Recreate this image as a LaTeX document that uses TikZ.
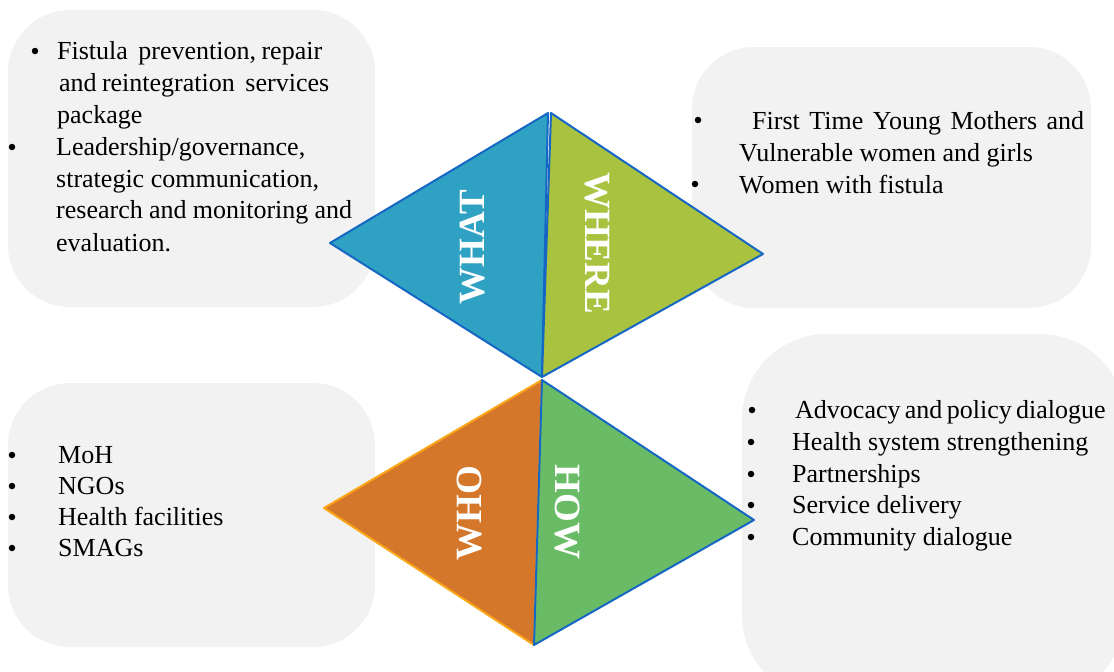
\documentclass[tikz,border=0pt]{standalone}
\usepackage{fontspec}
\setmainfont{Liberation Serif}
\definecolor{boxgray}{HTML}{F2F2F2}
\definecolor{whatfill}{HTML}{2FA2C3}
\definecolor{wherefill}{HTML}{A9C23F}
\definecolor{whofill}{HTML}{D5772A}
\definecolor{howfill}{HTML}{69BC65}
\definecolor{edgeblue}{HTML}{1667C4}
\definecolor{edgeorange}{HTML}{FBA616}
\begin{document}
\begin{tikzpicture}[x=1pt,y=-1pt,
  panel/.style={fill=boxgray, draw=none, rounded corners=62pt},
  txt/.style={anchor=base west, inner sep=0pt, font=\fontsize{26}{30}\selectfont, text=black},
  dot/.style={circle, fill=black, inner sep=0pt, minimum size=6.5pt},
  lbl/.style={text=white, font=\fontsize{37}{40}\selectfont\bfseries, inner sep=0pt},
  tri/.style={line width=2pt, line join=round}]
\useasboundingbox (0,0) rectangle (1114,672);

% panels
\fill[panel] (8,10) rectangle (375,307);
\fill[panel] (692,47) rectangle (1091,308);
\fill[panel] (8,383) rectangle (375,647);
\fill[panel, rounded corners=85pt] (742,334) rectangle (1125,700);

% WHAT text
\node[dot] (b1a) at (35,51) {};
\node[txt] (t1a) at (57,59) {\makebox[265pt][s]{Fistula\ \ prevention, repair}};
\node[txt] (t1b) at (59,91) {\makebox[270pt][s]{and reintegration\ \ services}};
\node[txt] (t1c) at (57,123) {package};
\node[dot] (b1b) at (12,147) {};
\node[txt] (t1d) at (56,155) {Leadership/governance,};
\node[txt] (t1e) at (56,187) {strategic communication,};
\node[txt] (t1f) at (56,218) {\makebox[296pt][s]{research and monitoring and}};
\node[txt] (t1g) at (56,251) {evaluation.};

% WHERE text
\node[dot] (b2a) at (698,120) {};
\node[txt] (t2a) at (752,129) {\makebox[332pt][s]{First Time Young Mothers and}};
\node[txt] (t2b) at (739,161) {Vulnerable women and girls};
\node[dot] (b2b) at (695,184) {};
\node[txt] (t2c) at (739,193) {Women with fistula};

% HOW text
\node[dot] (b3a) at (752,410) {};
\node[txt] (t3a) at (795,418) {\makebox[305pt][s]{Advocacy and policy dialogue}};
\node[dot] (b3b) at (751,442) {};
\node[txt] (t3b) at (792,450) {Health system strengthening};
\node[dot] (b3c) at (751,474) {};
\node[txt] (t3c) at (792,482) {Partnerships};
\node[dot] (b3d) at (751,505) {};
\node[txt] (t3d) at (792,513) {Service delivery};
\node[dot] (b3e) at (751,537) {};
\node[txt] (t3e) at (792,545) {Community dialogue};

% WHO text
\node[dot] (b4a) at (12,455) {};
\node[txt] (t4a) at (58,463) {MoH};
\node[dot] (b4b) at (12,486) {};
\node[txt] (t4b) at (58,494) {NGOs};
\node[dot] (b4c) at (12,517) {};
\node[txt] (t4c) at (58,525) {Health facilities};
\node[dot] (b4d) at (12,548) {};
\node[txt] (t4d) at (58,556) {SMAGs};

% triangles
\filldraw[tri, fill=whatfill, draw=edgeblue] (330,243) -- (548,113) -- (542,377) -- cycle;
\filldraw[tri, fill=wherefill, draw=edgeblue] (551,113) -- (763,254) -- (542,377) -- cycle;
\filldraw[tri, fill=whofill, draw=edgeorange] (542,380) -- (324,508) -- (534,645) -- cycle;
\filldraw[tri, fill=howfill, draw=edgeblue] (542,380) -- (754,520) -- (534,645) -- cycle;

% labels
\node[lbl, rotate=90] (what) at (473,247) {WHAT};
\node[lbl, rotate=-90] (where) at (597,243) {WHERE};
\node[lbl, rotate=90] (who) at (470,513) {WHO};
\node[lbl, rotate=-90] (how) at (567,512) {HOW};
\end{tikzpicture}
\end{document}
